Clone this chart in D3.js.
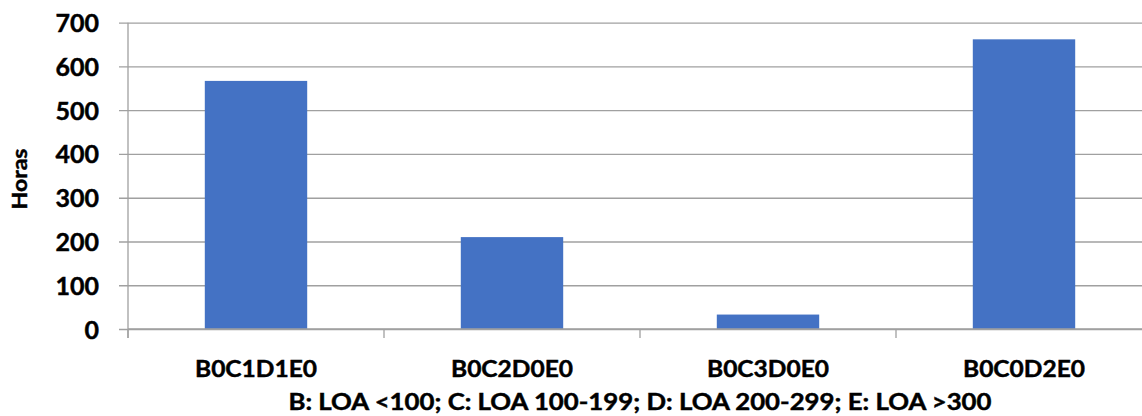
<!DOCTYPE html>
<html>
<head>
<meta charset="utf-8">
<script src="https://cdn.jsdelivr.net/npm/d3@7"></script>
<style>
  html, body { margin: 0; padding: 0; background: #fff; overflow: hidden; }
  svg { display: block; }
  text { font-family: Lato, "Liberation Sans", Arial, sans-serif; font-weight: bold; fill: #000; stroke: #000; stroke-width: 0.45px; }
</style>
</head>
<body>
<svg id="chart" width="1142" height="416"></svg>
<script>
const categories = ["B0C1D1E0", "B0C2D0E0", "B0C3D0E0", "B0C0D2E0"];
const values = [567, 210, 33, 662];
const yTicks = [0, 100, 200, 300, 400, 500, 600, 700];
const yTitle = "Horas";
const xTitle = "B: LOA <100; C: LOA 100-199; D: LOA 200-299; E: LOA >300";

(function () {
const svg = d3.select("#chart");
const mLeft = 128, mRight = 1152, mTop = 22.7, mBottom = 329;
const gridColor = "#a0a0a0";

const x = d3.scaleBand().domain(categories).range([mLeft, mRight]).paddingInner(0.6).paddingOuter(0.3);
const y = d3.scaleLinear().domain([0, 700]).range([mBottom, mTop]);

// gridlines + y axis
const yAxis = d3.axisLeft(y).tickValues(yTicks).tickSize(9).tickSizeOuter(0).tickPadding(20);
const gy = svg.append("g").attr("transform", `translate(${mLeft},0)`).call(yAxis);
gy.select(".domain").attr("stroke", gridColor).attr("stroke-width", 1.3)
  .attr("d", `M0,${mTop}V${mBottom + 9}`);
gy.selectAll(".tick line").attr("stroke", gridColor).attr("stroke-width", 1.3)
  .attr("x1", -9).attr("x2", mRight - mLeft);
gy.selectAll(".tick text").attr("font-size", 25).attr("font-weight", "bold")
  .attr("font-family", "Lato, 'Liberation Sans', Arial, sans-serif").attr("fill", "#000")
  .attr("dy", "0.36em");

// x axis boundary ticks
const step = x.step();
const boundaries = d3.range(categories.length).map(i => x(categories[i]) - x.paddingOuter() * step);
svg.append("g").selectAll("line").data(boundaries).join("line")
  .attr("x1", d => d).attr("x2", d => d)
  .attr("y1", mBottom).attr("y2", mBottom + 9)
  .attr("stroke", gridColor).attr("stroke-width", 1.3);

// bars
svg.append("g").selectAll("rect").data(values).join("rect")
  .attr("x", (d, i) => x(categories[i]))
  .attr("width", x.bandwidth())
  .attr("y", d => y(d))
  .attr("height", d => y(0) - y(d))
  .attr("fill", "#4472C4");

// baseline above bars
svg.append("line").attr("x1", mLeft).attr("x2", mRight).attr("y1", y(0)).attr("y2", y(0))
  .attr("stroke", gridColor).attr("stroke-width", 1.3);

// category labels
svg.append("g").selectAll("text").data(categories).join("text")
  .attr("x", d => x(d) + x.bandwidth() / 2)
  .attr("y", 376.5)
  .attr("text-anchor", "middle")
  .attr("font-size", 23)
  .attr("textLength", 122)
  .attr("lengthAdjust", "spacingAndGlyphs")
  .text(d => d);

// x title
svg.append("text")
  .attr("x", (mLeft + mRight) / 2)
  .attr("y", 410)
  .attr("text-anchor", "middle")
  .attr("font-size", 22)
  .attr("textLength", 703)
  .attr("lengthAdjust", "spacingAndGlyphs")
  .text(xTitle);

// y title
svg.append("text")
  .attr("transform", "translate(27,179) rotate(-90)")
  .attr("text-anchor", "middle")
  .attr("font-size", 21)
  .attr("textLength", 61)
  .attr("lengthAdjust", "spacingAndGlyphs")
  .text(yTitle);
})();
</script>
</body>
</html>
